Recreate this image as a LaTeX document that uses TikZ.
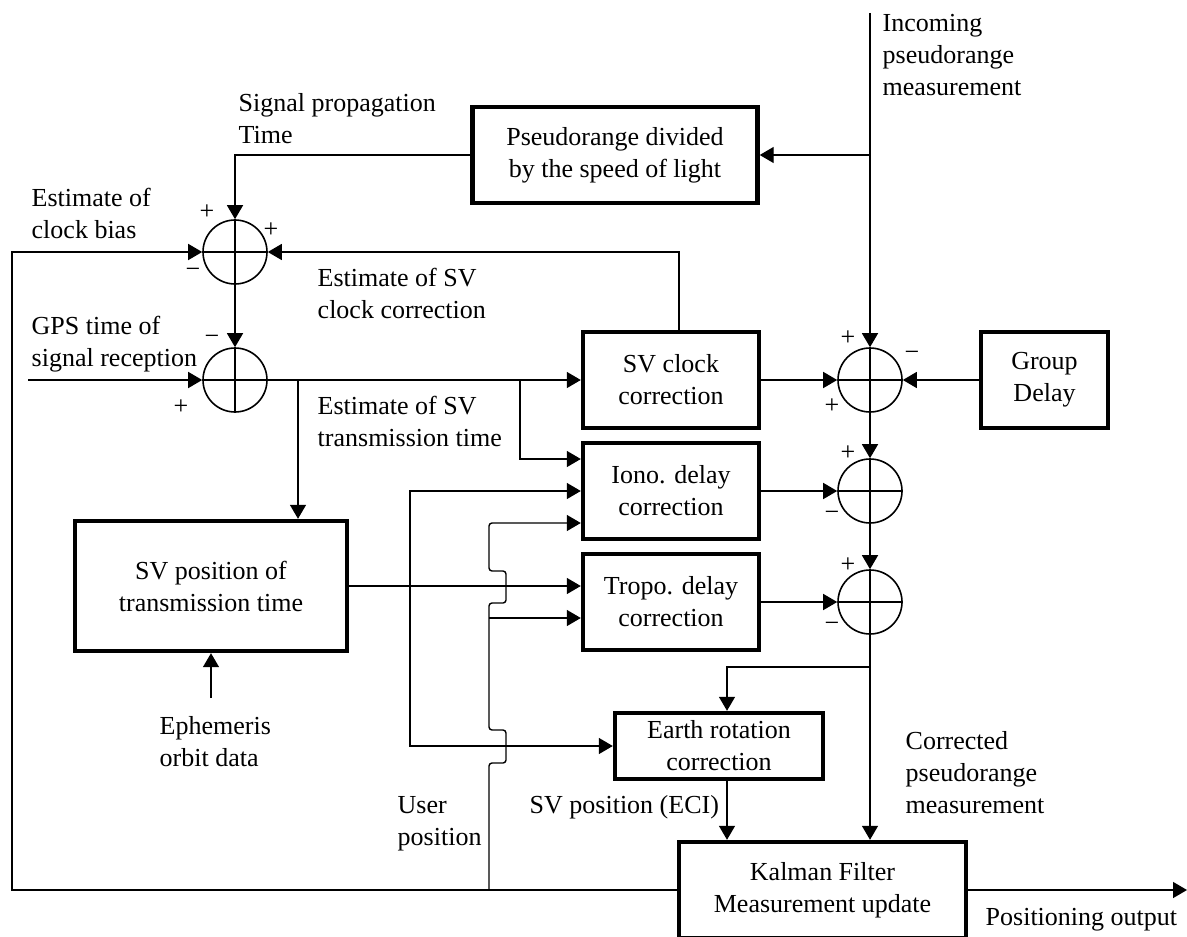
\documentclass[tikz,border=0pt]{standalone}
\usepackage{fontspec}
\setmainfont{Liberation Serif}
\usetikzlibrary{arrows.meta,positioning}

\begin{document}
\begin{tikzpicture}[x=0.5pt, y=-0.5pt, on grid,
    font=\fontsize{13}{16}\selectfont,
    >={Triangle[length=7pt,width=8pt]},
    line width=0.7pt,
    block/.style={draw, line width=2.2pt, align=center, inner sep=0pt},
    sumnode/.style={draw, circle, line width=0.8pt, minimum size=32pt, inner sep=0pt,
        path picture={\draw[line width=0.8pt]
            (path picture bounding box.north) -- (path picture bounding box.south)
            (path picture bounding box.west) -- (path picture bounding box.east);}},
    lbl/.style={anchor=base west, align=left, inner sep=0pt},
    sgn/.style={inner sep=0pt, font=\fontsize{13}{13}\selectfont}]
\useasboundingbox (0,0) rectangle (1187,936);

% blocks
\node[block, minimum width=142.5pt, minimum height=48pt] (prdiv) at (615,155) {Pseudorange divided\\by the speed of light};
\node[block, minimum width=88pt, minimum height=48pt] (svclk) at (671,380) {SV clock\\correction};
\node[block, minimum width=88pt, minimum height=48pt] (iono) [below=55.5pt of svclk] {Iono. delay\\correction};
\node[block, minimum width=88pt, minimum height=48pt] (tropo) [below=55.5pt of iono] {Tropo. delay\\correction};
\node[block, minimum width=136pt, minimum height=65pt] (svpos) at (211,586) {SV position of\\transmission time};
\node[block, minimum width=104pt, minimum height=33pt] (earth) at (719,746) {Earth rotation\\correction};
\node[block, minimum width=143.5pt, minimum height=48pt] (kalman) at (822.5,890) {Kalman Filter\\Measurement update};

% summing junctions
\node[sumnode] (sum2) at (235,380) {};
\node[sumnode] (sum1) [above=64pt of sum2] {};
\node[sumnode] (sum3) at (870,380) {};
\node[sumnode] (sum4) [below=55.5pt of sum3] {};
\node[sumnode] (sum5) [below=55.5pt of sum4] {};
\node[block, minimum width=63.5pt, minimum height=48pt] (grpdly) [right=87.25pt of sum3] {Group\\Delay};

% free ends and junctions
\coordinate (inc) at (870,13);
\coordinate (fbk) at (12,252);
\coordinate (gps) at (28,380);
\coordinate (txj) at (298,380);
\coordinate (ionoj) at (520,380);
\coordinate (spj) at (410,586);
\coordinate (usr) at (489,890);
\coordinate (trlo) at ([yshift=-8pt]tropo.west);
\coordinate (eph) at (211,698);
\coordinate (erj) at (870,667);
\coordinate (ero) at ([xshift=4pt]earth.south);
\coordinate (out) at (1187,890);

% connectors
\draw[->] (inc) -- (sum3.north);
\draw[->] (prdiv.east -| inc) -- (prdiv.east);
\draw[->] (prdiv.west) -| (sum1.north);
\draw[->] (kalman.west) -| (fbk) -- (sum1.west);
\draw[->] ([xshift=4pt]svclk.north) |- (sum1.east);
\draw[->] (sum1.south) -- (sum2.north);
\draw[->] (gps) -- (sum2.west);
\draw[->] (sum2.east) -- (svclk.west);
\draw[->] (txj) -- (txj |- svpos.north);
\draw[->] (ionoj) |- ([yshift=16pt]iono.west);
\draw[->] (svpos.east) -- ([yshift=8pt]tropo.west);
\draw[->] (eph) -- (svpos.south);
\draw[->] (spj) |- (iono.west);
\draw[->] (spj) |- (earth.west);
\draw[->, rounded corners=1.5pt] (usr) -- ++(0,-127) -- ++(17,0) -- ++(0,-33) -- ++(-17,0)
    -- ++(0,-127) -- ++(17,0) -- ++(0,-32) -- ++(-17,0) |- ([yshift=-16pt]iono.west);
\draw[->] (usr |- trlo) -- (trlo);
\draw[->] (svclk.east) -- (sum3.west);
\draw[->] (grpdly.west) -- (sum3.east);
\draw[->] (sum3.south) -- (sum4.north);
\draw[->] (iono.east) -- (sum4.west);
\draw[->] (sum4.south) -- (sum5.north);
\draw[->] (tropo.east) -- (sum5.west);
\draw[->] (sum5.south) -- (sum5.south |- kalman.north);
\draw[->] (erj) -| ([xshift=4pt]earth.north);
\draw[->] (ero) -- (ero |- kalman.north);
\draw[->] (kalman.east) -- (out);

% labels (base = last line)
\node[lbl] (inclbl) at (882,96) {Incoming\\pseudorange\\measurement};
\node[lbl] (siglbl) at (238,144) {Signal propagation\\Time};
\node[lbl] (biaslbl) at (31,238) {Estimate of\\clock bias};
\node[lbl] (svclklbl) at (317,318) {Estimate of SV\\clock correction};
\node[lbl] (gpslbl) at (31,366) {GPS time of\\signal reception};
\node[lbl] (txlbl) at (317,446) {Estimate of SV\\transmission time};
\node[lbl] (ephlbl) at (159,766) {Ephemeris\\orbit data};
\node[lbl] (usrlbl) at (397,845) {User\\position};
\node[lbl] (ecilbl) at (529,813) {SV position (ECI)};
\node[lbl] (corrlbl) at (905,813) {Corrected\\pseudorange\\measurement};
\node[lbl] (outlbl) at (985,925) {Positioning output};

% signs
\node[sgn] at (207,212) {+};
\node[sgn] at (271,230) {+};
\node[sgn] at (193,273) {−};
\node[sgn] at (212,340) {−};
\node[sgn] at (181,407) {+};
\node[sgn] at (848,338) {+};
\node[sgn] at (912,356) {−};
\node[sgn] at (832,406) {+};
\node[sgn] at (848,453) {+};
\node[sgn] at (832,516) {−};
\node[sgn] at (848,565) {+};
\node[sgn] at (832,627) {−};
\end{tikzpicture}
\end{document}
